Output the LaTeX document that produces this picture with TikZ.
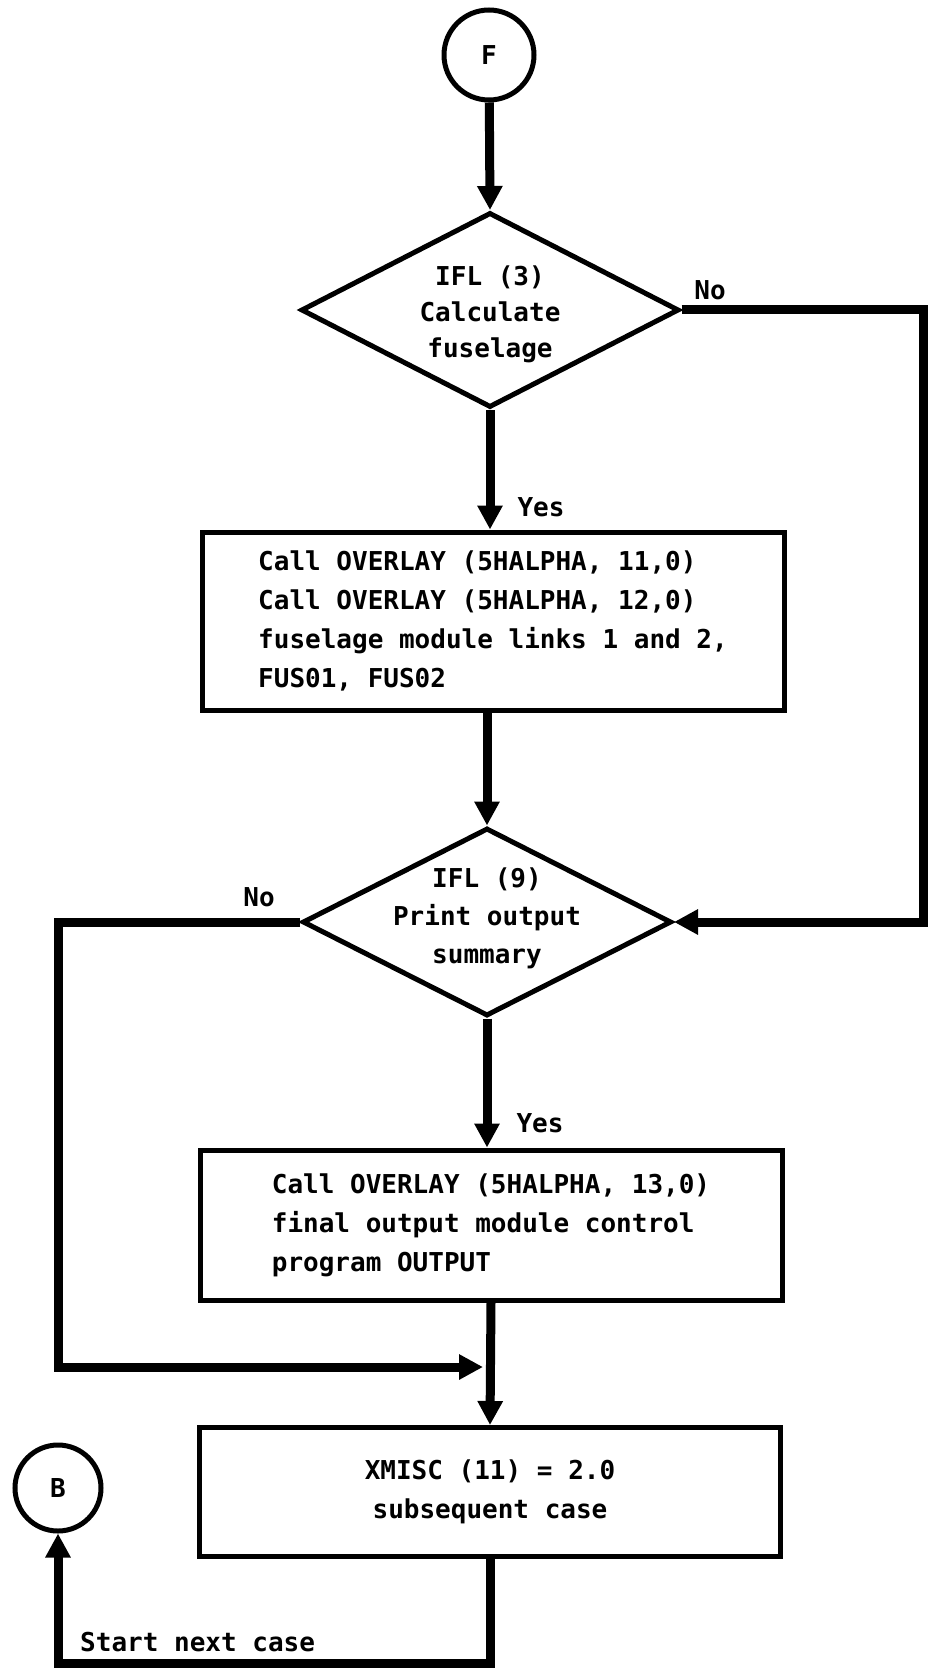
\documentclass[tikz,border=0pt]{standalone}
\usepackage{fontspec}
\setmonofont{DejaVu Sans Mono}
\usetikzlibrary{shapes.geometric,arrows.meta}
\tikzset{
  lbl/.style={font=\ttfamily\bfseries\fontsize{26}{39}\selectfont, inner sep=0pt},
  dlbl/.style={font=\ttfamily\bfseries\fontsize{26}{36}\selectfont, inner sep=0pt, align=center},
  stepbox/.style={draw, line width=5pt, rectangle, inner sep=0pt, lbl},
  dia/.style={draw, line width=5pt, diamond, inner sep=0pt},
  conn/.style={draw, circle, line width=5pt, inner sep=0pt, lbl},
  flow/.style={line width=9pt, -{Triangle[length=24pt,width=24pt]}},
  wire/.style={line width=9pt},
}
\begin{document}
\begin{tikzpicture}[x=1pt,y=-1pt]
\useasboundingbox[fill=white] (0,0) rectangle (928,1669);

\node[conn, minimum size=90pt] (F) at (489,55) {F};
\node[dia, minimum width=378pt, minimum height=195pt] (d1) at (490,310) {};
\node[dlbl] (d1t) at (490,314) {IFL (3)\\Calculate\\fuselage};
\node[stepbox, minimum width=582pt, minimum height=178pt, align=left] (box1) at (493,621)
  {Call OVERLAY (5HALPHA, 11,0)\\Call OVERLAY (5HALPHA, 12,0)\\fuselage module links 1 and 2,\\FUS01, FUS02};
\node[dia, minimum width=369pt, minimum height=188pt] (d2) at (487,922) {};
\node[dlbl, font=\ttfamily\bfseries\fontsize{26}{38}\selectfont] (d2t) at (487,918) {IFL (9)\\Print output\\summary};
\node[stepbox, minimum width=582pt, minimum height=150pt, align=left] (box2) at (491,1225)
  {Call OVERLAY (5HALPHA, 13,0)\\final output module control\\program OUTPUT};
\node[stepbox, minimum width=581pt, minimum height=129pt, align=center] (box3) at (490,1492)
  {XMISC (11) = 2.0\\subsequent case};
\node[conn, minimum size=86pt] (B) at (58,1488) {B};

\node[lbl] (no1) at (710,290) {No};
\node[lbl] (yes1) at (541,507) {Yes};
\node[lbl] (no2) at (259,897) {No};
\node[lbl] (yes2) at (540,1123) {Yes};
\node[lbl, anchor=west] (start) at (80,1642) {Start next case};

\coordinate (rt) at (923,0);
\coordinate (lf) at (58,0);
\coordinate (j) at (485,1367);
\coordinate (bt) at (0,1663);

\draw[flow] (F) -- (d1.north);
\draw[flow] (d1.south) -- (d1.south |- box1.north);
\draw[flow] (d2.north |- box1.south) -- (d2.north);
\draw[flow] (d2.south) -- (d2.south |- box2.north);
\draw[flow] (box2.south) -- (box3.north);
\draw[flow] (d1.east) -- (d1.east -| rt) -- (d2.east -| rt) -- (d2.east);
\draw[flow] (d2.west) -- (d2.west -| lf) -- (lf |- j) -- ([xshift=-2pt]j);
\draw[flow] (box3.south) -- (box3.south |- bt) -- (B.south |- bt) -- (B.south);
\end{tikzpicture}
\end{document}
